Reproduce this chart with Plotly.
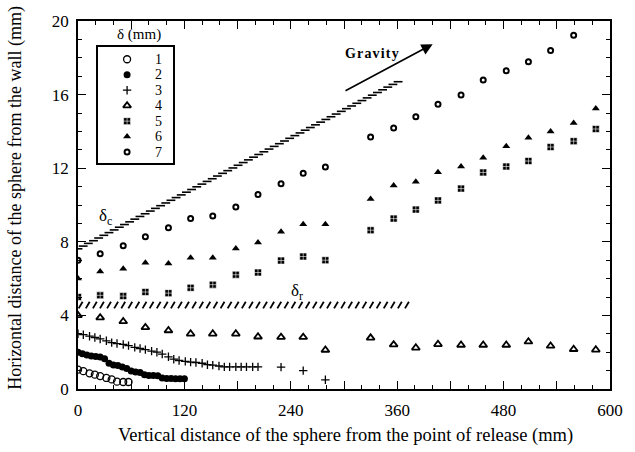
import plotly.graph_objects as go

# ---------------- data ----------------
s1_x = [0, 6, 13, 19, 25, 32, 38, 44, 51, 57]
s1_y = [1.05, 0.97, 0.85, 0.78, 0.70, 0.60, 0.52, 0.40, 0.38, 0.38]

s2_x = [0, 5, 10, 15, 20, 25, 30, 35, 40, 45, 50, 55, 60, 65, 70, 75, 80, 85, 90, 95,
        100, 105, 110, 115, 120]
s2_y = [2.0, 1.92, 1.85, 1.8, 1.76, 1.74, 1.65, 1.4, 1.3, 1.28, 1.2, 1.12, 0.98, 0.92,
        0.9, 0.78, 0.74, 0.74, 0.72, 0.6, 0.57, 0.57, 0.56, 0.56, 0.56]

s3_x = [0, 6, 13, 19, 25, 32, 38, 44, 51, 57, 64, 70, 76, 83, 89, 95, 102, 108, 114, 121,
        127, 133, 140, 146, 152, 159, 165, 171, 178, 184, 190, 197, 203, 229, 254, 279]
s3_y = [3.0, 2.95, 2.87, 2.8, 2.72, 2.62, 2.52, 2.47, 2.42, 2.36, 2.26, 2.2, 2.14, 2.06,
        2.0, 1.9, 1.75, 1.62, 1.55, 1.5, 1.46, 1.44, 1.4, 1.32, 1.3, 1.25, 1.2, 1.2, 1.2,
        1.2, 1.2, 1.2, 1.2, 1.19, 1.0, 0.5]

s4_x = [0, 25, 51, 76, 102, 127, 152, 178, 203, 229, 254, 279, 330, 356, 381, 406, 432,
        457, 483, 508, 533, 559, 584]
s4_y = [4.0, 3.88, 3.67, 3.35, 3.18, 3.0, 3.0, 3.0, 2.84, 2.82, 2.82, 2.12, 2.78, 2.41,
        2.24, 2.43, 2.39, 2.39, 2.39, 2.57, 2.34, 2.16, 2.13]

s5_x = [0, 25, 51, 76, 102, 127, 152, 178, 203, 229, 254, 279, 330, 356, 381, 406, 432,
        457, 483, 508, 533, 559, 584]
s5_y = [5.0, 5.09, 5.05, 5.27, 5.21, 5.5, 5.67, 6.21, 6.33, 6.98, 7.2, 7.0, 8.63, 9.26,
        9.75, 10.25, 10.89, 11.77, 12.09, 12.39, 13.15, 13.47, 14.13]

s6_x = [0, 25, 51, 76, 102, 127, 152, 178, 203, 229, 254, 279, 330, 356, 381, 406, 432,
        457, 483, 508, 533, 559, 584]
s6_y = [6.0, 6.38, 6.54, 6.86, 6.82, 7.13, 7.13, 7.64, 7.96, 8.55, 8.95, 8.95, 10.32,
        11.06, 11.26, 11.78, 12.09, 12.57, 13.19, 13.65, 13.99, 14.45, 15.25]

s7_x = [0, 25, 51, 76, 102, 127, 152, 178, 203, 229, 254, 279, 330, 356, 381, 406, 432,
        457, 483, 508, 533, 559]
s7_y = [7.0, 7.35, 7.78, 8.28, 8.76, 9.26, 9.40, 9.89, 10.57, 11.15, 11.72, 12.06, 13.69,
        14.19, 14.79, 15.48, 15.98, 16.79, 17.29, 17.78, 18.40, 19.22]

series_names = ["1", "2", "3", "4", "5", "6", "7"]

# reference lines (end points) delta_c and delta_r, gravity arrow
dc_x = [0, 361]
dc_y = [7.62, 16.7]
dr_x = [0, 371]
dr_y = [4.56, 4.56]
grav_x = [300, 400]
grav_y = [16.17, 18.74]

x_label_ticks = [0, 120, 240, 360, 480, 600]
x_mid_ticks = [60, 180, 300, 420, 540]
y_tickvals = [0, 4, 8, 12, 16, 20]

SERIF = "Liberation Serif, Times New Roman, serif"

styles = [
    dict(symbol="circle-open", size=7, color="black", line=dict(width=1.3, color="black")),
    dict(symbol="circle", size=7, color="black"),
    dict(symbol="cross-thin", size=6, color="black", line=dict(width=1.3, color="black")),
    dict(symbol="triangle-up-open", size=7, color="black", line=dict(width=1.8, color="black")),
    dict(symbol="square-cross", size=7, color="black", line=dict(width=0.6, color="white")),
    dict(symbol="triangle-up", size=7, color="black"),
    dict(symbol="circle-open", size=5, color="black", line=dict(width=2.0, color="black")),
]
xs_all = [s1_x, s2_x, s3_x, s4_x, s5_x, s6_x, s7_x]
ys_all = [s1_y, s2_y, s3_y, s4_y, s5_y, s6_y, s7_y]

fig = go.Figure()

# hatched reference lines (decoration generated from the two end points)
hx, hy = [], []
n_c = 62
for i in range(n_c + 1):
    t = i / n_c
    xc = dc_x[0] + t * (dc_x[1] - dc_x[0])
    yc = dc_y[0] + t * (dc_y[1] - dc_y[0])
    hx += [max(xc - 5.0, 0), xc + 5.0, None]
    hy += [yc, yc, None]
fig.add_trace(go.Scatter(x=hx, y=hy, mode="lines", line=dict(color="black", width=1.6),
                         showlegend=False, hoverinfo="skip"))
rx, ry = [], []
n_r = 46
for i in range(n_r + 1):
    t = i / n_r
    xc = dr_x[0] + 3 + t * (dr_x[1] - dr_x[0] - 3)
    yc = dr_y[0] + t * (dr_y[1] - dr_y[0])
    rx += [xc - 2.2, xc + 2.2, None]
    ry += [yc - 0.18, yc + 0.18, None]
# drawn on the overlay x axis (same range) that carries the unlabelled 60-mm ticks
fig.add_trace(go.Scatter(x=rx, y=ry, mode="lines", line=dict(color="black", width=1.8),
                         xaxis="x3", yaxis="y", showlegend=False, hoverinfo="skip"))

for name, xs, ys, st in zip(series_names, xs_all, ys_all, styles):
    fig.add_trace(go.Scatter(x=xs, y=ys, mode="markers", name=name, marker=st,
                             showlegend=False))

# key box (drawn on a small inset axis, in pixel units of the box)
key_rows = [12, 27.8, 43.6, 59.4, 75.2, 91, 106.8]
for name, st, ry_ in zip(series_names, styles, key_rows):
    fig.add_trace(go.Scatter(x=[30], y=[ry_], mode="markers", marker=st, name=name,
                             xaxis="x2", yaxis="y2", showlegend=False, hoverinfo="skip"))

axis_common = dict(showgrid=False, zeroline=False, showline=True, linecolor="black",
                   linewidth=1.5, mirror="ticks", ticks="inside", tickcolor="black",
                   tickwidth=1.2, tickfont=dict(family=SERIF, size=17, color="black"))

fig.update_layout(
    xaxis=dict(range=[0, 600], tickmode="array", tickvals=x_label_ticks, ticklen=8,
               ticklabelstandoff=5,
               minor=dict(dtick=20, ticks="inside", ticklen=4, tickcolor="black",
                          tickwidth=1), **axis_common),
    xaxis3=dict(range=[0, 600], overlaying="x", anchor="y", side="bottom",
                tickmode="array", tickvals=x_mid_ticks, ticks="inside", ticklen=8,
                tickwidth=1.2, tickcolor="black", showticklabels=False, showline=False,
                mirror="ticks", showgrid=False, zeroline=False),
    yaxis=dict(range=[0, 20], tickmode="array", tickvals=y_tickvals, ticklen=8,
               ticklabelstandoff=4,
               minor=dict(dtick=1, ticks="inside", ticklen=4, tickcolor="black",
                          tickwidth=1), **axis_common),
    xaxis2=dict(domain=[0.0369, 0.179], range=[0, 77], anchor="y2", showline=True,
                mirror=True, linecolor="black", linewidth=1.5, showgrid=False,
                zeroline=False, showticklabels=False, ticks="", fixedrange=True),
    yaxis2=dict(domain=[0.614, 0.928], range=[118, 0], anchor="x2", showline=True,
                mirror=True, linecolor="black", linewidth=1.5, showgrid=False,
                zeroline=False, showticklabels=False, ticks="", fixedrange=True),
)

gravity_txt = "\u200a".join("Gravity")
annots = [
    dict(x=grav_x[1], y=grav_y[1], ax=grav_x[0], ay=grav_y[0], xref="x", yref="y",
         axref="x", ayref="y", text="", showarrow=True, arrowhead=2, arrowsize=1.4,
         arrowwidth=1.6, arrowcolor="black"),
    dict(x=332, y=18.24, xref="x", yref="y", text="<b>" + gravity_txt + "</b>",
         showarrow=False, xanchor="center", yanchor="middle",
         font=dict(family=SERIF, size=14, color="black")),
    dict(x=31, y=9.35, xref="x", yref="y", text="δ<sub>c</sub>", showarrow=False,
         xanchor="center", yanchor="middle",
         font=dict(family=SERIF, size=17, color="black")),
    dict(x=247, y=5.27, xref="x", yref="y", text="δ<sub>r</sub>", showarrow=False,
         xanchor="center", yanchor="middle",
         font=dict(family=SERIF, size=17, color="black")),
    dict(x=0.114, y=0.963, xref="paper", yref="paper", text="δ (mm)", showarrow=False,
         xanchor="center", yanchor="middle",
         font=dict(family=SERIF, size=15, color="black")),
    dict(x=-0.118, y=0.52, xref="paper", yref="paper", textangle=-90,
         xanchor="center", yanchor="middle",
         text="Horizontal distance of the sphere from the wall (mm)", showarrow=False,
         font=dict(family=SERIF, size=18, color="black")),
    dict(x=0.502, y=-0.1277, xref="paper", yref="paper", xanchor="center",
         yanchor="middle",
         text="Vertical distance of the sphere from the point of release (mm)",
         showarrow=False, font=dict(family=SERIF, size=18.5, color="black")),
]
for nm, ry_ in zip(series_names, key_rows):
    annots.append(dict(x=62, y=ry_, xref="x2", yref="y2", text=nm, showarrow=False,
                       xanchor="center", yanchor="middle",
                       font=dict(family=SERIF, size=14, color="black")))

fig.update_layout(
    width=635, height=452,
    margin=dict(l=78, r=15, t=13, b=63),
    paper_bgcolor="white", plot_bgcolor="white",
    font=dict(family=SERIF, color="black"),
    annotations=annots,
    showlegend=False,
)

fig.write_html("out.html")
